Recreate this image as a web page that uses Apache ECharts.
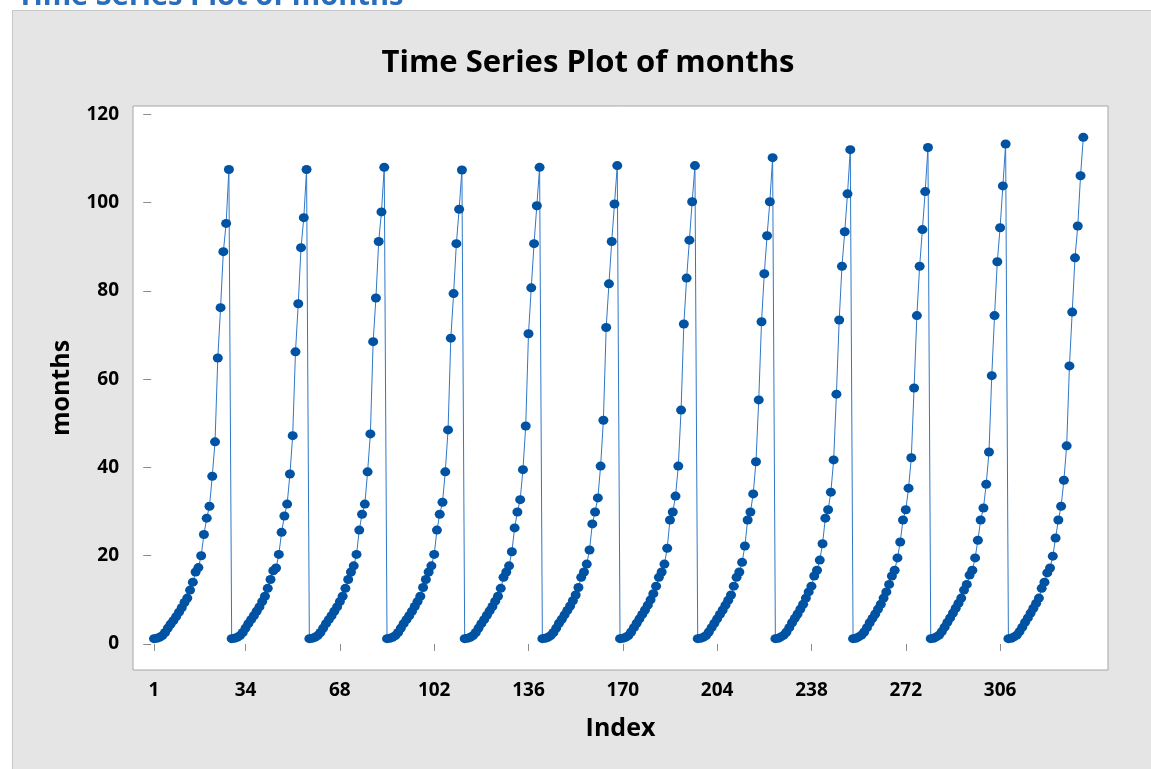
<!DOCTYPE html>
<html>
<head>
<meta charset="utf-8">
<script src="https://cdn.jsdelivr.net/npm/echarts@6/dist/echarts.min.js"></script>
<style>
  html, body { margin: 0; padding: 0; background: #ffffff; }
  #wrap { position: relative; width: 1151px; height: 769px; overflow: hidden; background: #ffffff; }
  #panel { position: absolute; left: 12px; top: 10px; right: 0; bottom: 0; background: #e5e5e5; border-left: 1px solid #c8c8c8; border-top: 1px solid #c8c8c8; }
  #chart { position: absolute; left: 0; top: 0; width: 1151px; height: 769px; }
</style>
</head>
<body>
<div id="wrap">
  <div id="panel"></div>
  <div id="chart"></div>
</div>
<script>
// ---- data ----
const cycle1  = [1.2,1.3,1.5,1.9,2.6,3.6,4.5,5.3,6.2,7.2,8.2,9.4,10.4,12.2,14.0,16.3,17.3,20.0,24.8,28.5,31.2,38.0,45.8,64.8,76.2,88.9,95.3,107.5];
const cycle2  = [1.2,1.3,1.5,1.9,2.6,3.6,4.6,5.5,6.4,7.4,8.4,9.6,10.8,12.6,14.6,16.6,17.2,20.3,25.3,29.0,31.7,38.5,47.2,66.2,77.1,89.8,96.6,107.5];
const cycle3  = [1.2,1.3,1.5,1.9,2.6,3.6,4.6,5.5,6.4,7.4,8.4,9.6,10.8,12.6,14.6,16.3,17.7,20.3,25.8,29.4,31.7,39.0,47.6,68.5,78.4,91.2,97.9,108.0];
const cycle4  = [1.2,1.3,1.5,1.9,2.6,3.6,4.6,5.5,6.4,7.4,8.5,9.6,10.8,12.8,14.6,16.3,17.7,20.3,25.8,29.4,32.1,39.0,48.5,69.3,79.4,90.7,98.5,107.4];
const cycle5  = [1.2,1.3,1.5,1.9,2.6,3.6,4.6,5.5,6.5,7.5,8.5,9.7,10.8,12.6,15.1,16.3,17.7,20.9,26.3,29.9,32.7,39.5,49.4,70.3,80.7,90.7,99.3,108.0];
const cycle6  = [1.2,1.3,1.5,1.9,2.6,3.6,4.7,5.6,6.6,7.6,8.6,9.8,11.1,12.8,15.1,16.3,18.1,21.3,27.2,29.9,33.1,40.3,50.7,71.7,81.6,91.2,99.7,108.4];
const cycle7  = [1.2,1.3,1.5,1.9,2.7,3.7,4.7,5.7,6.7,7.7,8.8,10.0,11.4,13.1,15.1,16.3,18.1,21.7,28.1,29.9,33.5,40.3,53.0,72.5,82.9,91.5,100.2,108.4];
const cycle8  = [1.2,1.3,1.5,1.9,2.7,3.7,4.7,5.7,6.7,7.7,8.8,9.9,11.1,13.1,15.1,16.3,18.5,22.2,28.1,29.9,34.0,41.3,55.3,73.0,83.9,92.5,100.2,110.2];
const cycle9  = [1.2,1.3,1.6,2.0,2.7,3.7,4.8,5.8,6.8,7.9,9.0,10.4,11.8,13.1,15.4,16.7,19.0,22.7,28.5,30.4,34.4,41.7,56.6,73.4,85.6,93.4,102.0,112.0];
const cycle10 = [1.2,1.3,1.6,2.0,2.7,3.7,4.8,5.8,6.8,7.9,9.0,10.4,11.8,13.5,15.4,16.7,19.5,23.1,28.1,30.4,35.3,42.2,58.0,74.4,85.6,93.9,102.5,112.5];
const cycle11 = [1.2,1.3,1.6,2.0,2.8,3.8,4.9,5.9,7.0,8.1,9.2,10.4,12.2,13.5,15.6,16.7,19.5,23.5,28.1,30.8,36.2,43.5,60.8,74.4,86.6,94.3,103.8,113.3];
const cycle12 = [1.2,1.3,1.6,2.0,2.8,3.8,4.9,5.9,7.0,8.1,9.2,10.4,12.6,14.0,16.1,17.2,19.9,24.0,28.1,31.2,37.1,44.9,63.0,75.2,87.5,94.7,106.1,114.8];

const xTickValues = [1, 34, 68, 102, 136, 170, 204, 238, 272, 306];
const yTickValues = [0, 20, 40, 60, 80, 100, 120];

const titleText = 'Time Series Plot of months';
const xName = 'Index';
const yName = 'months';

// ---- build ----
const months = [].concat(cycle1, cycle2, cycle3, cycle4, cycle5, cycle6,
                         cycle7, cycle8, cycle9, cycle10, cycle11, cycle12);
const seriesData = months.map((v, i) => [i + 1, v]);

const FONT = '"Open Sans", "Noto Sans", sans-serif';

const chart = echarts.init(document.getElementById('chart'), null, { renderer: 'canvas' });
chart.setOption({
  animation: false,
  backgroundColor: 'transparent',
  textStyle: { fontFamily: FONT },
  grid: {
    left: 133, top: 106, width: 975, height: 564,
    show: true, backgroundColor: '#ffffff', borderColor: '#a6a6a6', borderWidth: 1
  },
  graphic: [
    {
      type: 'text', x: 17, y: 11,
      style: {
        text: titleText, fill: '#2a6ebb',
        font: 'bold 29px ' + FONT,
        align: 'left', verticalAlign: 'bottom',
        textAlign: 'left', textVerticalAlign: 'bottom'
      },
      z: 10
    },
    {
      type: 'text', x: 588, y: 63,
      style: {
        text: titleText, fill: '#000000',
        font: 'bold 31px ' + FONT,
        align: 'center', verticalAlign: 'middle',
        textAlign: 'center', textVerticalAlign: 'middle'
      },
      z: 10
    }
  ],
  xAxis: {
    type: 'value',
    min: -6.57, max: 344.9,
    name: xName,
    nameLocation: 'middle',
    nameGap: 59,
    nameTextStyle: { fontFamily: FONT, fontSize: 25, fontWeight: 'bold', color: '#000', verticalAlign: 'middle' },
    axisLine: { show: false },
    splitLine: { show: false },
    axisTick: { show: true, length: 7, lineStyle: { color: '#8c8c8c', width: 1 }, customValues: xTickValues },
    axisLabel: { fontFamily: FONT, fontSize: 19, fontWeight: 'bold', color: '#000', margin: 11, customValues: xTickValues }
  },
  yAxis: {
    type: 'value',
    min: -5.9, max: 121.9,
    name: yName,
    nameLocation: 'middle',
    nameGap: 71,
    nameTextStyle: { fontFamily: FONT, fontSize: 25, fontWeight: 'bold', color: '#000', verticalAlign: 'middle' },
    axisLine: { show: false },
    splitLine: { show: false },
    axisTick: { show: true, length: 8, lineStyle: { color: '#8c8c8c', width: 1 }, customValues: yTickValues },
    axisLabel: { fontFamily: FONT, fontSize: 19, fontWeight: 'bold', color: '#000', margin: 14, customValues: yTickValues }
  },
  series: [{
    type: 'line',
    data: seriesData,
    symbol: 'circle',
    symbolSize: [10, 9],
    showSymbol: true,
    itemStyle: { color: '#0052a3', borderWidth: 0 },
    lineStyle: { color: '#2f78c8', width: 1 },
    emphasis: { disabled: true }
  }]
});
</script>
</body>
</html>
